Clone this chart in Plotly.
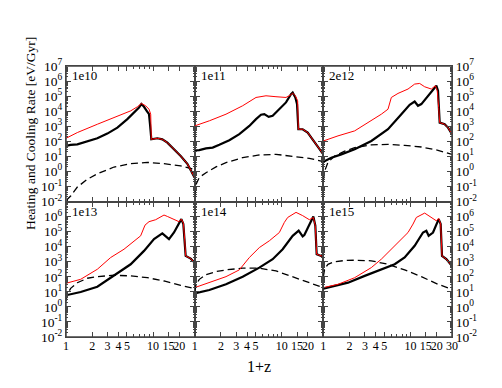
import plotly.graph_objects as go
from plotly.subplots import make_subplots

# mass labels of the six panels
labels = ["1e10", "1e11", "2e12", "1e13", "1e14", "1e15"]

# red: heating rate
x_heat_1e10 = [1.0, 1.35, 2.29, 3.56, 5.53, 6.59, 7.33, 8.21, 8.97, 9.38, 9.54, 11.18, 12.76, 14.57, 17.37, 20.73, 24.72, 30]
heat_1e10 = [158, 380, 1350, 3800, 10500, 19500, 32400, 22900, 13500, 6300, 135, 158, 135, 81, 29.5, 10.5, 3.2, 0.38]
x_heat_1e11 = [1.0, 1.474, 2.289, 3.556, 5.06, 6.59, 8.58, 11.18, 12.76, 13.34, 14.31, 15.22, 15.5, 17.37, 19.83, 22.63, 25.83, 30]
heat_1e11 = [1050, 2290, 6300, 22900, 81300, 105000, 91200, 81300, 123000, 158000, 105000, 49000, 631, 631, 380, 135, 49, 13.5]
x_heat_2e12 = [1.0, 1.474, 2.289, 3.556, 4.633, 5.525, 6.034, 7.197, 9.38, 11.18, 12.76, 14.57, 17.37, 19.31, 20.3, 21.09, 21.66, 24.72, 27.0, 30]
heat_2e12 = [105, 229, 490, 2290, 6300, 13500, 81300, 151000, 295000, 631000, 692000, 417000, 295000, 490000, 229000, 17400, 1740, 1350, 813, 295]
x_heat_1e13 = [1.0, 1.474, 2.289, 3.257, 4.633, 6.591, 7.197, 8.07, 8.97, 10.70, 13.34, 14.57, 17.37, 19.83, 21.09, 22.23, 23.03, 23.64, 27.0, 30]
heat_1e13 = [37, 68, 316, 1900, 6760, 31600, 52500, 269000, 457000, 617000, 1260000, 1020000, 617000, 457000, 676000, 372000, 31600, 2450, 1620, 871]
x_heat_1e14 = [1.0, 1.474, 2.289, 3.257, 4.242, 5.525, 7.197, 9.38, 10.70, 11.69, 14.57, 17.37, 20.73, 23.03, 24.28, 25.15, 27.0, 30]
heat_1e14 = [19, 41, 102, 288, 1900, 8700, 24500, 87100, 407000, 871000, 1900000, 1150000, 617000, 871000, 245000, 3160, 2690, 2190]
x_heat_1e15 = [1.0, 1.474, 2.289, 3.556, 4.633, 6.034, 7.197, 9.38, 10.70, 11.69, 14.57, 17.37, 19.83, 21.09, 22.23, 23.03, 25.83, 30]
heat_1e15 = [19, 31.6, 87, 407, 1480, 6760, 20900, 87100, 316000, 871000, 1700000, 871000, 525000, 759000, 316000, 2450, 1480, 525]

# thick black: cooling rate
x_cool_1e10 = [1.0, 1.13, 1.35, 1.76, 2.29, 2.98, 3.89, 5.06, 6.03, 6.89, 7.33, 7.86, 8.44, 8.97, 9.21, 9.54, 11.18, 12.76, 14.57, 17.37, 20.73, 24.72, 30]
cool_1e10 = [49, 58, 63, 95, 158, 324, 813, 2950, 8130, 17400, 29500, 19500, 10500, 6300, 1350, 135, 158, 135, 81, 29.5, 10.5, 3.2, 0.38]
x_cool_1e11 = [1.0, 1.131, 1.349, 1.609, 1.920, 2.5, 3.257, 4.242, 5.06, 5.774, 6.306, 7.07, 7.86, 9.38, 11.18, 12.76, 13.34, 14.31, 14.96, 15.5, 17.37, 19.83, 22.63, 25.83, 30]
cool_1e11 = [25, 26, 34, 38, 58, 117, 295, 1050, 2950, 5750, 6300, 4170, 4900, 13500, 38000, 135000, 174000, 81300, 29500, 631, 631, 380, 135, 49, 13.5]
x_cool_2e12 = [1.0, 1.235, 1.609, 2.289, 3.556, 5.525, 7.86, 9.80, 11.18, 12.21, 13.34, 15.91, 18.97, 19.83, 20.73, 21.09, 21.66, 24.72, 27.0, 30]
cool_2e12 = [4.4, 8.1, 13.5, 29.5, 105, 631, 6300, 26300, 43700, 22900, 29500, 105000, 417000, 490000, 229000, 17400, 1740, 1350, 813, 295]
x_cool_1e13 = [1.0, 1.474, 2.289, 3.556, 5.525, 7.86, 10.24, 12.76, 13.34, 15.22, 17.37, 19.83, 21.09, 22.23, 23.03, 23.64, 27.0, 30]
cool_1e13 = [5.9, 9.8, 21.9, 115, 676, 5250, 31600, 75900, 61700, 31600, 87100, 407000, 676000, 316000, 31600, 2450, 1620, 871]
x_cool_1e14 = [1.0, 1.474, 2.289, 3.556, 5.525, 7.86, 10.24, 13.34, 15.63, 17.37, 18.16, 20.73, 23.03, 24.28, 25.15, 27.0, 30]
cool_1e14 = [7.9, 13.2, 31.6, 102, 407, 1480, 6760, 52500, 115000, 47900, 58900, 316000, 1020000, 245000, 3160, 2690, 2190]
x_cool_1e15 = [1.0, 1.474, 1.920, 2.983, 4.633, 6.591, 8.58, 11.18, 13.94, 15.22, 16.19, 18.16, 21.09, 22.23, 23.03, 25.83, 30]
cool_1e15 = [16.2, 26.9, 40.7, 115, 288, 676, 1900, 11500, 87100, 115000, 52500, 87100, 676000, 316000, 2450, 1480, 525]

# dashed: third rate, same redshift grid in every panel
x_dash = [1.0, 1.018, 1.036, 1.131, 1.349, 1.758, 2.289, 3.556, 5.525, 8.58, 13.34, 20.73, 30]
dash_1e10 = [0.002, 0.01, 0.014, 0.023, 0.091, 0.3, 0.69, 1.95, 3.24, 3.98, 3.24, 2.29, 1.35]
dash_1e11 = [0.025, 0.07, 0.135, 0.4, 0.81, 2.0, 3.8, 8.1, 12.3, 13.5, 10.5, 7.4, 4.4]
dash_2e12 = [0.25, 0.6, 1.05, 4.0, 10.5, 22, 38, 57.5, 63, 53.7, 41.7, 25.1, 13.5]
dash_1e13 = [2.5, 4.5, 6.8, 17, 40, 80, 102, 126, 115, 87, 52.5, 26.9, 16.2]
dash_1e14 = [10, 21.9, 30, 67.6, 140, 220, 288, 372, 372, 245, 102, 40.7, 19]
dash_1e15 = [100, 245, 330, 676, 1000, 1200, 1260, 1150, 676, 288, 102, 31.6, 14.8]

heat = [(x_heat_1e10, heat_1e10), (x_heat_1e11, heat_1e11), (x_heat_2e12, heat_2e12),
        (x_heat_1e13, heat_1e13), (x_heat_1e14, heat_1e14), (x_heat_1e15, heat_1e15)]
cool = [(x_cool_1e10, cool_1e10), (x_cool_1e11, cool_1e11), (x_cool_2e12, cool_2e12),
        (x_cool_1e13, cool_1e13), (x_cool_1e14, cool_1e14), (x_cool_1e15, cool_1e15)]
dash = [dash_1e10, dash_1e11, dash_2e12, dash_1e13, dash_1e14, dash_1e15]

x_ticks = [1, 2, 3, 4, 5, 10, 15, 20, 30]
y_exps = list(range(-2, 8))

FONT = "Liberation Serif"
FRAME = "#444444"

fig = make_subplots(rows=2, cols=3, horizontal_spacing=0, vertical_spacing=0)

for i in range(6):
    r, c = i // 3 + 1, i % 3 + 1
    fig.add_trace(go.Scatter(x=x_dash, y=dash[i], mode="lines",
                             line=dict(color="black", width=1.3, dash="7px,4px")), row=r, col=c)
    fig.add_trace(go.Scatter(x=cool[i][0], y=cool[i][1], mode="lines",
                             line=dict(color="black", width=2.2)), row=r, col=c)
    fig.add_trace(go.Scatter(x=heat[i][0], y=heat[i][1], mode="lines",
                             line=dict(color="#ff0000", width=1)), row=r, col=c)
    sfx = "" if i == 0 else str(i + 1)
    fig.add_annotation(text=labels[i], x=0.03, y=1.0, xref="x%s domain" % sfx,
                       yref="y%s domain" % sfx,
                       xanchor="left", yanchor="top", showarrow=False,
                       font=dict(family=FONT, size=13, color="black"))

# minor tick positions
x_minor = [6, 7, 8, 9]
y_minor = [m * 10 ** e for e in range(-2, 7) for m in range(2, 10)]

for c in range(1, 4):
    for r in range(1, 3):
        last = (c == 3)
        tv = x_ticks if last else x_ticks[:-1]
        # bottom row drops the 10^7 label, it would sit on the 10^-2 of the row above
        ye = y_exps if r == 1 else y_exps[:-1]
        fig.update_xaxes(type="log", range=[0, 1.4771], showline=True, mirror="ticks",
                         linecolor=FRAME, linewidth=1, ticks="inside", ticklen=5,
                         tickcolor=FRAME, tickwidth=1, tickvals=tv,
                         ticktext=[str(v) for v in tv], showgrid=False, zeroline=False,
                         showticklabels=(r == 2), tickangle=0, ticklabelstandoff=-2,
                         tickfont=dict(family=FONT, size=12, color="black"),
                         minor=dict(ticks="inside", ticklen=3, tickcolor=FRAME, tickvals=x_minor),
                         row=r, col=c)
        fig.update_yaxes(type="log", range=[-2, 7], showline=True, mirror="ticks",
                         linecolor=FRAME, linewidth=1, ticks="inside", ticklen=5,
                         tickcolor=FRAME, tickwidth=1,
                         tickvals=[10 ** e for e in ye],
                         ticktext=["10<sup>%d</sup>" % e for e in ye],
                         showgrid=False, zeroline=False,
                         showticklabels=(c != 2), side="right" if last else "left",
                         tickfont=dict(family=FONT, size=13.5, color="black"),
                         minor=dict(ticks="inside", ticklen=2, tickcolor=FRAME, tickvals=y_minor),
                         row=r, col=c)

# outer frame
fig.add_shape(type="rect", xref="paper", yref="paper", x0=0, x1=1, y0=0, y1=1,
              line=dict(color=FRAME, width=1.5))

fig.add_annotation(text="1+z", x=0.5, y=-0.11, xref="paper", yref="paper",
                   xanchor="center", yanchor="middle", showarrow=False,
                   font=dict(family=FONT, size=16, color="black"))
fig.add_annotation(text="Heating and Cooling Rate [eV/Gyr]", x=-0.093, y=0.749,
                   xref="paper", yref="paper", textangle=-90, showarrow=False,
                   xanchor="center", yanchor="middle",
                   font=dict(family=FONT, size=13.5, color="black"))

fig.update_layout(width=502, height=388, showlegend=False,
                  margin=dict(l=58, r=58, t=58, b=59),
                  paper_bgcolor="white", plot_bgcolor="white")

fig.write_html("out.html")
